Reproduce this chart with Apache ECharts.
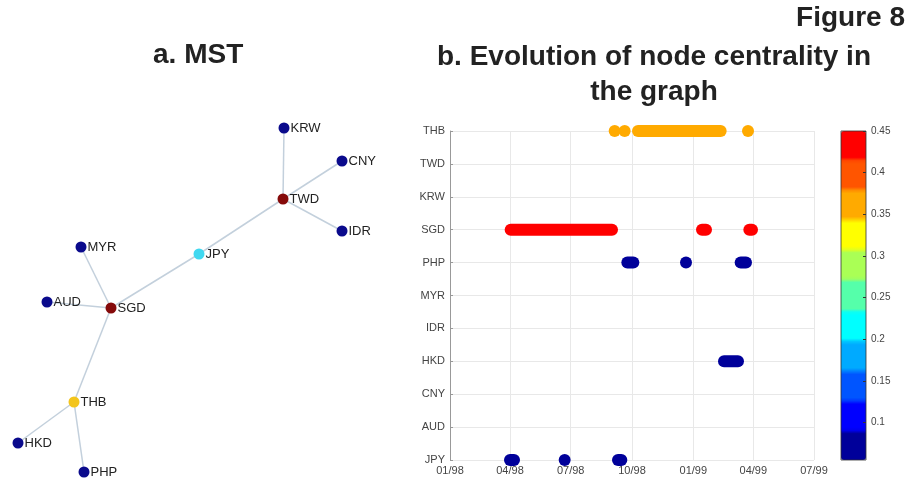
<!DOCTYPE html>
<html>
<head>
<meta charset="utf-8">
<script src="https://cdn.jsdelivr.net/npm/echarts@6/dist/echarts.min.js"></script>
<style>
  html, body { margin: 0; padding: 0; background: #fff; }
  #chart { width: 912px; height: 482px; }
</style>
</head>
<body>
<div id="chart"></div>
<script>
// --- a. MST : node layout (layout units, y up) and tree edges
var nodeNames = ['KRW', 'CNY', 'TWD', 'IDR', 'JPY', 'MYR', 'AUD', 'SGD', 'THB', 'HKD', 'PHP'];
var nodeX     = [266,   324,   265,   324,   181,   63,    29,    93,    56,    0,     66];
var nodeY     = [344,   311,   273,   241,   218,   225,   170,   164,   70,    29,    0];
var nodeRole  = ['leaf', 'leaf', 'hub', 'leaf', 'bridge', 'leaf', 'leaf', 'hub', 'relay', 'leaf', 'leaf'];
var mstEdges  = [
    ['KRW', 'TWD'], ['CNY', 'TWD'], ['IDR', 'TWD'], ['TWD', 'JPY'], ['JPY', 'SGD'],
    ['MYR', 'SGD'], ['AUD', 'SGD'], ['SGD', 'THB'], ['THB', 'HKD'], ['THB', 'PHP']
];

// --- b. centrality over time : [start, end, centrality] per currency
var currencies = ['JPY', 'AUD', 'CNY', 'HKD', 'IDR', 'MYR', 'PHP', 'SGD', 'KRW', 'TWD', 'THB'];
var thbSpans = [['1998-09-05', '1998-09-05', 0.37], ['1998-09-20', '1998-09-20', 0.37],
                ['1998-10-10', '1999-02-11', 0.37], ['1999-03-24', '1999-03-24', 0.37]];
var sgdSpans = [['1998-04-02', '1998-09-01', 0.44], ['1999-01-14', '1999-01-20', 0.44],
                ['1999-03-26', '1999-03-30', 0.44]];
var phpSpans = [['1998-09-24', '1998-10-03', 0.07], ['1998-12-21', '1998-12-21', 0.07],
                ['1999-03-13', '1999-03-21', 0.07]];
var hkdSpans = [['1999-02-16', '1999-03-09', 0.07]];
var jpySpans = [['1998-04-01', '1998-04-07', 0.07], ['1998-06-22', '1998-06-22', 0.07],
                ['1998-09-10', '1998-09-15', 0.07]];
var quarterTicks = ['1998-01-01', '1998-04-01', '1998-07-01', '1998-10-01', '1999-01-01', '1999-04-01', '1999-07-01'];
var colorTicks = [0.1, 0.15, 0.2, 0.25, 0.3, 0.35, 0.4, 0.45];
var centralityMin = 0.055, centralityMax = 0.45;

var jet11 = ['#00009a', '#0000ff', '#0055ff', '#00aaff', '#00ffff', '#55ffaa',
             '#aaff55', '#ffff00', '#ffaa00', '#ff5500', '#ff0000'];

// stepped colour scale (repeat each colour so the bar looks banded)
var steppedJet = [];
jet11.forEach(function (c) {
    for (var k = 0; k < 8; k++) steppedJet.push(c);
});

var spanData = [];
function addSpans(name, spans) {
    var idx = currencies.indexOf(name);
    spans.forEach(function (s) {
        spanData.push([Date.parse(s[0]), Date.parse(s[1]), idx, s[2]]);
    });
}
addSpans('THB', thbSpans);
addSpans('SGD', sgdSpans);
addSpans('PHP', phpSpans);
addSpans('HKD', hkdSpans);
addSpans('JPY', jpySpans);

var tickTimes = quarterTicks.map(function (d) { return Date.parse(d); });

var graphNodes = nodeNames.map(function (n, i) {
    return { name: n, value: [nodeX[i], nodeY[i]], category: nodeRole[i] };
});
var graphLinks = mstEdges.map(function (e) {
    return { source: e[0], target: e[1] };
});

function fmtDate(v) {
    var d = new Date(v);
    var mm = ('0' + (d.getUTCMonth() + 1)).slice(-2);
    var yy = String(d.getUTCFullYear()).slice(2);
    return mm + '/' + yy;
}

var titleStyle = {
    fontFamily: 'Liberation Sans, Arial, sans-serif',
    fontSize: 28,
    fontWeight: 'bold',
    color: '#222',
    lineHeight: 35
};

var myChart = echarts.init(document.getElementById('chart'));
var option = {
    animation: false,
    backgroundColor: '#fff',
    textStyle: { fontFamily: 'Liberation Sans, Arial, sans-serif' },
    title: [
        { text: 'Figure 8', left: 905, top: 1, textAlign: 'right', textVerticalAlign: 'top', padding: 0, textStyle: titleStyle },
        { text: 'a. MST', left: 153, top: 38, textAlign: 'left', textVerticalAlign: 'top', padding: 0, textStyle: titleStyle },
        { text: 'b. Evolution of node centrality in\nthe graph', left: 654, top: 40, textAlign: 'center', textVerticalAlign: 'top', padding: 0, textStyle: titleStyle }
    ],
    grid: [
        { left: 18, top: 128, width: 324, height: 344 },
        { left: 450, top: 131, width: 364, height: 329 },
        { left: 841, top: 131, width: 25, height: 329, show: true, borderColor: '#333', borderWidth: 0.8, backgroundColor: 'transparent', z: 10 }
    ],
    xAxis: [
        { gridIndex: 0, type: 'value', min: 0, max: 324, show: false },
        {
            gridIndex: 1, type: 'value',
            min: tickTimes[0], max: tickTimes[tickTimes.length - 1],
            axisLine: { lineStyle: { color: '#999', width: 1 } },
            axisTick: { inside: true, length: 3, customValues: tickTimes, lineStyle: { color: '#999' } },
            axisLabel: { customValues: tickTimes, formatter: fmtDate, fontSize: 11, color: '#444', margin: 5 },
            splitLine: { show: true, lineStyle: { color: '#e8e8e8', width: 1 } }
        },
        { gridIndex: 2, type: 'value', min: 0, max: 1, show: false }
    ],
    yAxis: [
        { gridIndex: 0, type: 'value', min: 0, max: 344, show: false },
        {
            gridIndex: 1, type: 'category', data: currencies, boundaryGap: false,
            axisLine: { lineStyle: { color: '#999', width: 1 } },
            axisTick: { inside: true, length: 3, lineStyle: { color: '#999' } },
            axisLabel: { fontSize: 11, color: '#444', margin: 5 },
            splitLine: { show: true, lineStyle: { color: '#e8e8e8', width: 1 } }
        },
        {
            gridIndex: 2, type: 'value', position: 'right',
            min: centralityMin, max: centralityMax,
            z: 12,
            axisLine: { show: false, onZero: false },
            axisTick: { show: true, inside: true, length: 3, customValues: colorTicks, lineStyle: { color: '#333' } },
            axisLabel: { customValues: colorTicks, fontSize: 10, color: '#444', margin: 5 },
            splitLine: { show: false }
        }
    ],
    visualMap: [{
        type: 'continuous',
        seriesIndex: 1,
        dimension: 3,
        min: centralityMin,
        max: centralityMax,
        calculable: false,
        hoverLink: false,
        text: null,
        showLabel: false,
        left: 841,
        top: 131,
        padding: 0,
        itemWidth: 25,
        itemHeight: 329,
        z: 1,
        inRange: { color: steppedJet }
    }],
    series: [
        {
            type: 'graph',
            coordinateSystem: 'cartesian2d',
            xAxisIndex: 0,
            yAxisIndex: 0,
            symbol: 'circle',
            symbolSize: 11,
            categories: [
                { name: 'leaf', itemStyle: { color: '#0a0a8c' } },
                { name: 'hub', itemStyle: { color: '#850a0a' } },
                { name: 'bridge', itemStyle: { color: '#40d8f0' } },
                { name: 'relay', itemStyle: { color: '#f3c51c' } }
            ],
            data: graphNodes,
            links: graphLinks,
            label: { show: true, position: 'right', distance: 1, fontSize: 13, color: '#222', formatter: '{b}' },
            lineStyle: { color: '#c3d0dc', width: 1.5, opacity: 1 },
            z: 3
        },
        {
            type: 'custom',
            xAxisIndex: 1,
            yAxisIndex: 1,
            clip: false,
            encode: { x: [0, 1], y: 2 },
            data: spanData,
            renderItem: function (params, api) {
                var p0 = api.coord([api.value(0), api.value(2)]);
                var p1 = api.coord([api.value(1), api.value(2)]);
                var r = 6;
                return {
                    type: 'rect',
                    shape: { x: p0[0] - r, y: p0[1] - r, width: p1[0] - p0[0] + 2 * r, height: 2 * r, r: r },
                    style: { fill: api.visual('color') }
                };
            },
            z: 5
        }
    ]
};
myChart.setOption(option);
</script>
</body>
</html>
